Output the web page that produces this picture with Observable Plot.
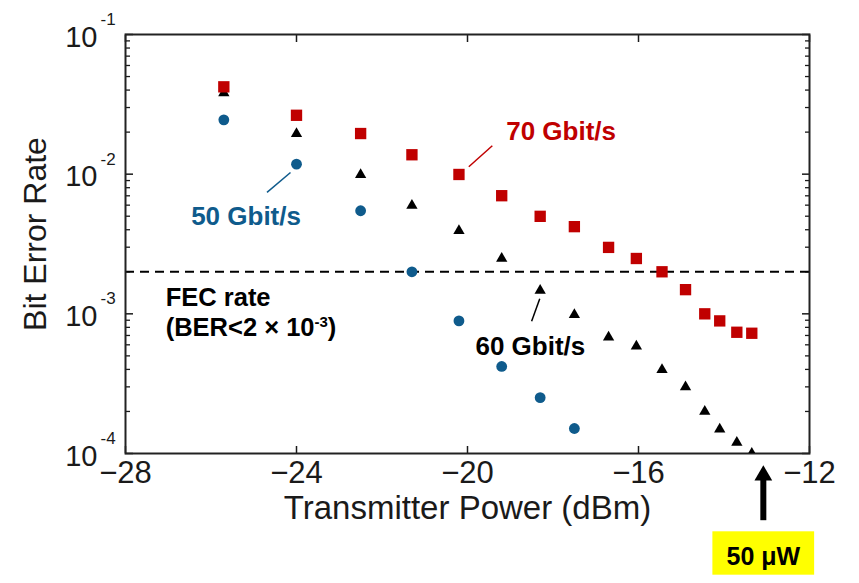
<!DOCTYPE html>
<html><head><meta charset="utf-8">
<script src="https://cdn.jsdelivr.net/npm/d3@7"></script>
<script src="https://cdn.jsdelivr.net/npm/@observablehq/plot@0.6"></script>
<style>body{margin:0;background:#fff} #chart{width:859px;height:583px}</style>
</head><body><div id="chart"></div>
<script>
// ---- data ----
const power50 = [-25.7, -24.0, -22.5, -21.3, -20.2, -19.2, -18.3, -17.5];
const ber50   = [0.0245, 0.0118, 0.00547, 0.0020, 0.00089, 0.00042, 0.000251, 0.000151];
const power60 = [-25.7, -24.0, -22.5, -21.3, -20.2, -19.2, -18.3, -17.5, -16.7, -16.05, -15.45, -14.9, -14.45, -14.1, -13.7, -13.35];
const ber60   = [0.0382, 0.0195, 0.0099, 0.00597, 0.00394, 0.00249, 0.00147, 0.000984, 0.00068, 0.000586, 0.000398, 0.000299, 0.0002, 0.000149, 0.00012, 0.0001];
const power70 = [-25.7, -24.0, -22.5, -21.3, -20.2, -19.2, -18.3, -17.5, -16.7, -16.05, -15.45, -14.9, -14.45, -14.1, -13.7, -13.35];
const ber70   = [0.0422, 0.0264, 0.01954, 0.01377, 0.00995, 0.00701, 0.00499, 0.00421, 0.00299, 0.00249, 0.0020, 0.00149, 0.0010, 0.00089, 0.000738, 0.000726];
const fecRate = 2e-3;

const xTicks = [-28, -24, -20, -16, -12];
const yTicks = [1e-1, 1e-2, 1e-3, 1e-4];
const yExponents = ["-1", "-2", "-3", "-4"];

const seriesNames = ["50 Gbit/s", "60 Gbit/s", "70 Gbit/s"];
const labelX = [-25.18, -18.53, -17.81];
const labelY = [0.00496, 0.00058, 0.0201];
const leaderX1 = [-24.14, -18.31, -19.97];
const leaderY1 = [0.01028, 0.00128, 0.0113];
const leaderX2 = [-24.69, -18.50, -19.42];
const leaderY2 = [0.0074, 0.000885, 0.01596];

const fecLines = ["FEC rate", "(BER<2 × 10^{-3})"];
const fecX = [-27.06, -27.06];
const fecY = [0.00131, 0.000792];

const powerNote = "50 μW";
const noteX = -13.08;
const noteBoxX = [-14.26, -11.88];
const noteBoxY = [1.345e-5, 2.75e-5];
const noteTextY = 1.82e-5;
const arrowY = [3.33e-5, 6.65e-5];
const arrowHeadY = 6.97e-5;

// ---- build ----
const pts = (xs, ys) => xs.map((x, i) => ({x, y: ys[i]}));
const d50 = pts(power50, ber50), d60 = pts(power60, ber60), d70 = pts(power70, ber70);
const blue = "#0f5b8c", red = "#c00000", ink = "#1a1a1a";
const seriesColors = [blue, "#000", red];
const yMinor = [];
for (let e = -4; e < -1; e++) for (let k = 2; k <= 9; k++) yMinor.push(k * Math.pow(10, e));
const labels = seriesNames.map((t, i) => ({t, x: labelX[i], y: labelY[i], c: seriesColors[i]}));
const leaders = seriesNames.map((t, i) => ({x1: leaderX1[i], y1: leaderY1[i], x2: leaderX2[i], y2: leaderY2[i], c: seriesColors[i]}));
const fec = fecLines.map((t, i) => ({t, x: fecX[i], y: fecY[i]}));
const blank = () => "";

const plot = Plot.plot({
  width: 859, height: 583,
  marginLeft: 125, marginRight: 50, marginTop: 34, marginBottom: 130,
  style: {fontFamily: "'Liberation Sans', Arial, sans-serif", background: "white", color: ink},
  x: {domain: [-28, -12]},
  y: {type: "log", domain: [1e-4, 1e-1]},
  marks: [
    // inward ticks
    Plot.axisX(xTicks, {anchor: "bottom", tickSize: -7, tickFormat: blank, label: null, strokeWidth: 1.5}),
    Plot.axisX(xTicks, {anchor: "top", tickSize: -7, tickFormat: blank, label: null, strokeWidth: 1.5}),
    Plot.axisY(yMinor, {anchor: "left", tickSize: -5, tickFormat: blank, label: null, strokeWidth: 1.3}),
    Plot.axisY(yMinor, {anchor: "right", tickSize: -5, tickFormat: blank, label: null, strokeWidth: 1.3}),
    Plot.axisY(yTicks, {anchor: "left", tickSize: -8, tickFormat: blank, label: null, strokeWidth: 1.5}),
    Plot.axisY(yTicks, {anchor: "right", tickSize: -8, tickFormat: blank, label: null, strokeWidth: 1.5}),
    // tick labels
    Plot.axisX(xTicks, {anchor: "bottom", tickSize: 0, tickPadding: 7, fontSize: 31, label: null, tickFormat: d3.format("d")}),
    Plot.text(yTicks, {y: d => d, frameAnchor: "left", text: () => "10", textAnchor: "end", dx: -28, dy: 3, fontSize: 29}),
    Plot.text(yTicks, {y: d => d, frameAnchor: "left", text: (d, i) => yExponents[i], textAnchor: "start", dx: -25, dy: -15, fontSize: 17}),
    // axis titles
    Plot.text(["Transmitter Power (dBm)"], {text: d => d, frameAnchor: "bottom", dy: 65, fontSize: 33}),
    Plot.text(["Bit Error Rate"], {text: d => d, frameAnchor: "left", textAnchor: "middle", rotate: -90, dx: -90, dy: -10, fontSize: 32}),
    // FEC threshold
    Plot.ruleY([fecRate], {stroke: "#000", strokeWidth: 2, strokeDasharray: "9,6"}),
    Plot.frame({stroke: "#222", strokeWidth: 2}),
    // data
    Plot.dot(d60, {x: "x", y: "y", symbol: "triangle", r: 4.2, fill: "#000", stroke: "none", clip: true}),
    Plot.dot(d50, {x: "x", y: "y", symbol: "circle", r: 5.4, fill: blue, stroke: "none", clip: true}),
    Plot.dot(d70, {x: "x", y: "y", symbol: "square", r: 6.4, fill: red, stroke: "none", clip: true}),
    // annotations
    Plot.link(leaders, {x1: "x1", y1: "y1", x2: "x2", y2: "y2", stroke: d => d.c, strokeWidth: 1.5}),
    Plot.text(labels, {x: "x", y: "y", text: "t", fill: d => d.c, fontSize: 26, fontWeight: "bold"}),
    Plot.text(fec, {x: "x", y: "y", text: "t", textAnchor: "start", fill: "#000", fontSize: 25.5, fontWeight: "bold"}),
    // 50 µW marker below axis
    Plot.link([0], {x1: () => noteX, x2: () => noteX, y1: () => arrowY[0], y2: () => arrowY[1], stroke: "#000", strokeWidth: 6}),
    Plot.dot([0], {x: () => noteX, y: () => arrowHeadY, symbol: "triangle", r: 6.6, fill: "#000", stroke: "none"}),
    Plot.rect([0], {x1: () => noteBoxX[0], x2: () => noteBoxX[1], y1: () => noteBoxY[0], y2: () => noteBoxY[1], fill: "#ffff00"}),
    Plot.text([powerNote], {text: d => d, x: () => noteX, y: () => noteTextY, fill: "#000", fontSize: 25, fontWeight: "bold"})
  ]
});

// superscript markup ^{...} -> tspans
plot.querySelectorAll("text").forEach(t => {
  const s = t.textContent;
  if (!s.includes("^{")) return;
  const fs = parseFloat(getComputedStyle(t).fontSize) || 25;
  const shift = Math.round(fs * 0.36);
  t.textContent = "";
  const ns = "http://www.w3.org/2000/svg";
  let raised = false;
  for (const p of s.split(/(\^\{[^}]*\})/)) {
    if (!p) continue;
    const ts = document.createElementNS(ns, "tspan");
    if (p.startsWith("^{")) {
      ts.textContent = p.slice(2, -1);
      ts.setAttribute("font-size", Math.round(fs * 0.6));
      ts.setAttribute("dy", -shift);
      raised = true;
    } else {
      ts.textContent = p;
      if (raised) { ts.setAttribute("dy", shift); raised = false; }
    }
    t.appendChild(ts);
  }
});
document.getElementById("chart").appendChild(plot);
</script>
</body></html>
